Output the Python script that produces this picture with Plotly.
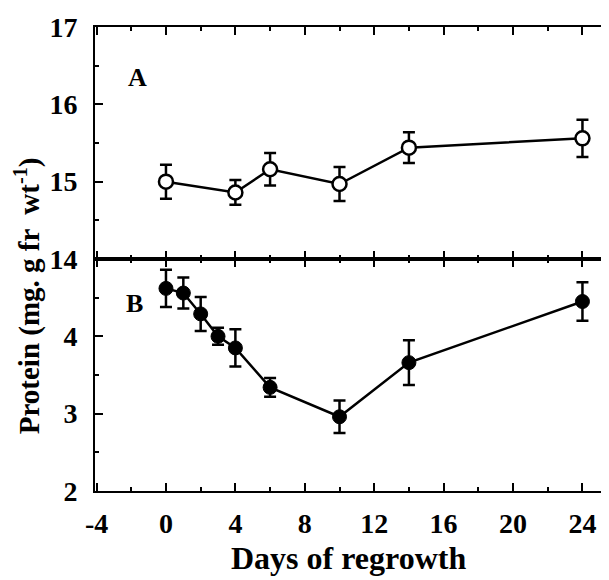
import plotly.graph_objects as go
from plotly.subplots import make_subplots

# Panel A (open circles)
days_a = [0, 4, 6, 10, 14, 24]
protein_a = [15.00, 14.86, 15.16, 14.97, 15.44, 15.56]
err_a = [0.22, 0.16, 0.21, 0.22, 0.20, 0.24]

# Panel B (filled circles)
days_b = [0, 1, 2, 3, 4, 6, 10, 14, 24]
protein_b = [4.62, 4.56, 4.29, 4.00, 3.85, 3.34, 2.96, 3.66, 4.45]
err_b = [0.24, 0.20, 0.22, 0.11, 0.24, 0.12, 0.21, 0.29, 0.25]

x_ticks = [-4, 0, 4, 8, 12, 16, 20, 24]
x_ticktext = ["-4", "0", "4", "8", "12", "16", "20", "24"]
ya_ticks = [14, 15, 16, 17]
yb_ticks = [2, 3, 4]

FONT = "Liberation Serif"
tickfont = dict(family=FONT, size=28, color="black", weight="bold")

fig = make_subplots(rows=2, cols=1, shared_xaxes=True, vertical_spacing=0)

fig.add_trace(go.Scatter(
    x=days_a, y=protein_a, mode="lines+markers",
    line=dict(color="black", width=2.5),
    marker=dict(size=14, color="white", line=dict(color="black", width=2.5)),
    error_y=dict(type="data", array=err_a, visible=True, color="black", thickness=2.5, width=6),
    showlegend=False), row=1, col=1)

fig.add_trace(go.Scatter(
    x=days_b, y=protein_b, mode="lines+markers",
    line=dict(color="black", width=2.5),
    marker=dict(size=14, color="black", line=dict(color="black", width=1)),
    error_y=dict(type="data", array=err_b, visible=True, color="black", thickness=2.5, width=6),
    showlegend=False), row=2, col=1)

xcommon = dict(range=[-4.09, 25.53], showline=True, linecolor="black", linewidth=2,
               ticks="inside", ticklen=8, tickwidth=2, tickcolor="black",
               tickvals=x_ticks, ticktext=x_ticktext, mirror="ticks", showgrid=False,
               zeroline=False, automargin=False,
               minor=dict(tickvals=[-2, 2, 6, 10, 14, 18, 22], ticks="inside", ticklen=4,
                          tickwidth=2, tickcolor="black"),
               tickfont=tickfont)
fig.update_xaxes(**xcommon)
fig.update_xaxes(showticklabels=False, row=1, col=1)
fig.update_xaxes(showticklabels=True, ticklabelstandoff=6, row=2, col=1)

ycommon = dict(showline=True, linecolor="black", linewidth=2, ticks="inside", ticklen=8,
               tickwidth=2, tickcolor="black", showgrid=False, zeroline=False,
               tickfont=tickfont, ticklabelstandoff=10, automargin=False)
fig.update_yaxes(**ycommon)
fig.update_yaxes(range=[14, 17], tickvals=ya_ticks,
                 minor=dict(tickvals=[14.5, 15.5, 16.5], ticks="inside", ticklen=4,
                            tickwidth=2, tickcolor="black"), row=1, col=1)
fig.update_yaxes(range=[2, 5], tickvals=yb_ticks,
                 minor=dict(tickvals=[2.5, 3.5, 4.5], ticks="inside", ticklen=4,
                            tickwidth=2, tickcolor="black"), row=2, col=1)

fig.add_annotation(x=-1.66, y=16.35, xref="x", yref="y", text="A", showarrow=False,
                   font=dict(family=FONT, size=26, color="black", weight="bold"))
fig.add_annotation(x=-1.83, y=4.43, xref="x2", yref="y2", text="B", showarrow=False,
                   font=dict(family=FONT, size=26, color="black", weight="bold"))

fig.add_annotation(x=-0.132, y=0.42, xref="paper", yref="paper",
                   text="Protein (mg. g fr  wt<sup>-1</sup>)", textangle=-90, showarrow=False,
                   xanchor="center", yanchor="middle",
                   font=dict(family=FONT, size=29, color="black", weight="bold"))
fig.add_annotation(x=0.493, y=-0.144, xref="paper", yref="paper",
                   text="Days of regrowth", showarrow=False,
                   xanchor="center", yanchor="middle",
                   font=dict(family=FONT, size=32, color="black", weight="bold"))

fig.update_layout(width=609, height=580, margin=dict(l=87, r=8, t=19, b=97, autoexpand=False),
                  plot_bgcolor="white", paper_bgcolor="white")

fig.write_html("out.html")
